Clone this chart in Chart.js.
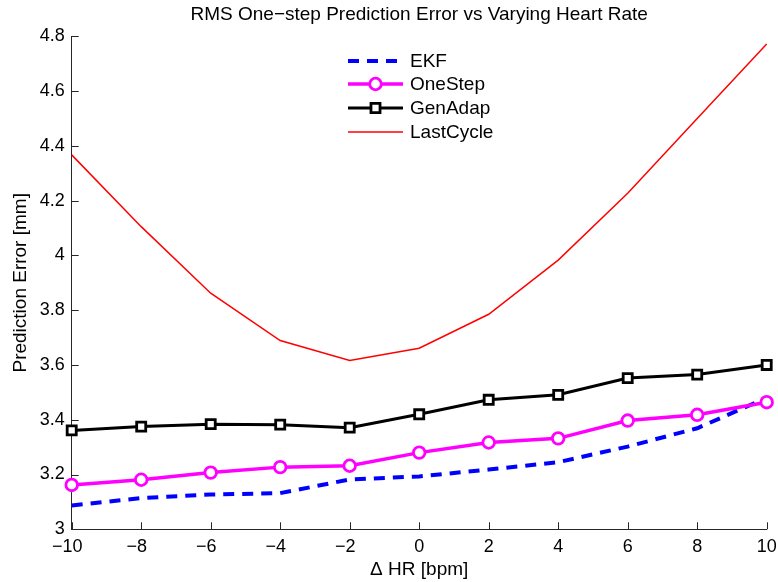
<!DOCTYPE html>
<html>
<head>
<meta charset="utf-8">
<script src="https://cdn.jsdelivr.net/npm/chart.js@4/dist/chart.umd.min.js"></script>
<style>
html,body{margin:0;padding:0;background:#fff;}
#wrap{width:778px;height:582px;position:relative;}
</style>
</head>
<body>
<div id="wrap"><canvas id="c" width="778" height="582"></canvas></div>
<script>
const hrDelta   = [-10, -8, -6, -4, -2, 0, 2, 4, 6, 8, 10];
const ekf       = [3.087, 3.114, 3.127, 3.132, 3.182, 3.193, 3.218, 3.245, 3.302, 3.369, 3.480];
const oneStep   = [3.162, 3.181, 3.207, 3.227, 3.232, 3.280, 3.317, 3.332, 3.397, 3.418, 3.464];
const genAdap   = [3.361, 3.375, 3.384, 3.382, 3.371, 3.420, 3.473, 3.491, 3.552, 3.565, 3.600];
const lastCycle = [4.367, 4.105, 3.862, 3.689, 3.616, 3.661, 3.785, 3.983, 4.227, 4.500, 4.772];
const yTicks    = [3, 3.2, 3.4, 3.6, 3.8, 4, 4.2, 4.4, 4.6, 4.8];
const xTicks    = [-10, -8, -6, -4, -2, 0, 2, 4, 6, 8, 10];
const seriesNames = ['EKF', 'OneStep', 'GenAdap', 'LastCycle'];
const titleText = 'RMS One\u2212step Prediction Error vs Varying Heart Rate';
const xLabel = '\u0394 HR [bpm]';
const yLabel = 'Prediction Error [mm]';

const FONT = '"Liberation Sans", Arial, Helvetica, sans-serif';
const pts = arr => hrDelta.map((x, i) => ({x: x, y: arr[i]}));

const styles = [
  {color: '#0000ff', width: 4, dash: [11, 8], marker: null},
  {color: '#ff00ff', width: 3.5, dash: [], marker: 'circle'},
  {color: '#000000', width: 3, dash: [], marker: 'rect'},
  {color: '#ff0000', width: 1.5, dash: [], marker: null}
];
const allData = [ekf, oneStep, genAdap, lastCycle];

const datasets = allData.map((arr, i) => {
  const s = styles[i];
  return {
    label: seriesNames[i],
    data: pts(arr),
    borderColor: s.color,
    borderWidth: s.width,
    borderDash: s.dash,
    backgroundColor: '#ffffff',
    pointStyle: s.marker || 'circle',
    pointRadius: s.marker === 'circle' ? 5.8 : (s.marker === 'rect' ? 6.4 : 0),
    pointBorderWidth: s.marker ? 2.8 : 0,
    pointBorderColor: s.color,
    pointBackgroundColor: '#ffffff',
    pointHoverRadius: 0,
    tension: 0,
    clip: false,
    order: 4 - i
  };
});

const decor = {
  id: 'decor',
  afterDraw(chart) {
    const ctx = chart.ctx;
    const xs = chart.scales.x, ys = chart.scales.y;
    const a = chart.chartArea;
    ctx.save();
    // inward ticks
    ctx.strokeStyle = '#262626';
    ctx.lineWidth = 1;
    ctx.beginPath();
    xTicks.forEach(v => {
      const px = Math.round(xs.getPixelForValue(v)) + 0.5;
      ctx.moveTo(px, a.bottom); ctx.lineTo(px, a.bottom - 7);
    });
    yTicks.forEach(v => {
      const py = Math.round(ys.getPixelForValue(v)) + 0.5;
      ctx.moveTo(a.left, py); ctx.lineTo(a.left + 7, py);
    });
    ctx.stroke();

    ctx.fillStyle = '#000';
    ctx.font = '19px ' + FONT;
    // title
    ctx.textAlign = 'center';
    ctx.textBaseline = 'alphabetic';
    ctx.fillText(titleText, (a.left + a.right) / 2, 20);
    // x label
    ctx.fillText(xLabel, (a.left + a.right) / 2, 575);
    // y label
    ctx.save();
    ctx.translate(26, (a.top + a.bottom) / 2);
    ctx.rotate(-Math.PI / 2);
    ctx.fillText(yLabel, 0, 0);
    ctx.restore();

    // legend
    const lx0 = 348, lx1 = 403, tx = 410;
    const rows = [61, 84, 108, 132];
    styles.forEach((s, i) => {
      const y = rows[i];
      ctx.save();
      ctx.strokeStyle = s.color;
      ctx.lineWidth = s.width;
      ctx.setLineDash(s.dash);
      ctx.beginPath();
      ctx.moveTo(lx0, y); ctx.lineTo(lx1, y);
      ctx.stroke();
      ctx.setLineDash([]);
      const mx = (lx0 + lx1) / 2;
      if (s.marker === 'circle') {
        ctx.fillStyle = '#fff';
        ctx.lineWidth = 2.8;
        ctx.beginPath(); ctx.arc(mx, y, 5.8, 0, Math.PI * 2); ctx.fill(); ctx.stroke();
      } else if (s.marker === 'rect') {
        ctx.fillStyle = '#fff';
        ctx.lineWidth = 2.8;
        const h = 6.4 * Math.SQRT1_2;
        ctx.beginPath(); ctx.rect(mx - h, y - h, 2 * h, 2 * h); ctx.fill(); ctx.stroke();
      }
      ctx.restore();
      ctx.fillStyle = '#000';
      ctx.textAlign = 'left';
      ctx.textBaseline = 'middle';
      ctx.fillText(seriesNames[i], tx, y + 1);
    });
    ctx.restore();
  }
};

new Chart(document.getElementById('c'), {
  type: 'line',
  data: {datasets: datasets},
  options: {
    responsive: false,
    animation: false,
    events: [],
    layout: {padding: {left: 0, right: 11.3, top: 36.3, bottom: 0}},
    plugins: {legend: {display: false}, title: {display: false}, tooltip: {enabled: false}},
    scales: {
      x: {
        type: 'linear',
        min: -10, max: 10,
        afterFit: s => { s.height = 52.7; s.paddingLeft = 0; s.paddingRight = 0; },
        afterBuildTicks: s => { s.ticks = xTicks.map(v => ({value: v})); },
        ticks: {
          color: '#000', padding: 7,
          font: {family: FONT, size: 18},
          maxRotation: 0, autoSkip: false,
          callback: v => v < 0 ? String(v).replace('-', '\u2212') + '\u2002' : String(v)
        },
        grid: {display: true, drawOnChartArea: false, drawTicks: false},
        border: {display: true, color: '#262626', width: 1}
      },
      y: {
        type: 'linear',
        min: 3, max: 4.8,
        afterFit: s => { s.width = 71.7; s.paddingTop = 0; s.paddingBottom = 0; },
        afterBuildTicks: s => { s.ticks = yTicks.map(v => ({value: v})); },
        ticks: {
          color: '#000', padding: 7,
          font: {family: FONT, size: 18},
          autoSkip: false,
          callback: v => String(+v.toFixed(1))
        },
        grid: {display: true, drawOnChartArea: false, drawTicks: false},
        border: {display: true, color: '#262626', width: 1}
      }
    }
  },
  plugins: [decor]
});
</script>
</body>
</html>
